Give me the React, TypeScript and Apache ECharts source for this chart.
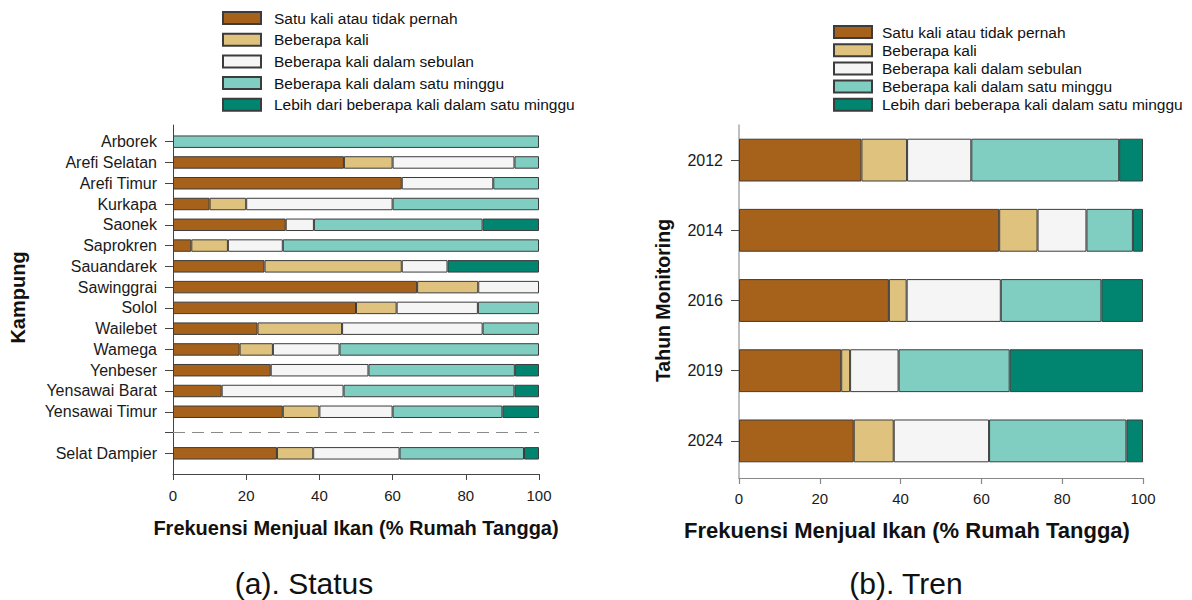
import React, { useEffect, useRef } from "react";
import * as echarts from "echarts";

const seriesNames = [
  "Satu kali atau tidak pernah",
  "Beberapa kali",
  "Beberapa kali dalam sebulan",
  "Beberapa kali dalam satu minggu",
  "Lebih dari beberapa kali dalam satu minggu",
];
const colors = ["#A6611A", "#DFC27D", "#F5F5F5", "#80CDC1", "#018571"];

const kampung = [
  "Arborek", "Arefi Selatan", "Arefi Timur", "Kurkapa", "Saonek", "Saprokren",
  "Sauandarek", "Sawinggrai", "Solol", "Wailebet", "Wamega", "Yenbeser",
  "Yensawai Barat", "Yensawai Timur", " ", "Selat Dampier",
];
const statusSatuKali = [0, 46.7, 62.5, 10, 30.8, 5, 25, 66.7, 50, 23.1, 18.2, 26.7, 13.3, 30, 0, 28.4];
const statusBeberapa = [0, 13.3, 0, 10, 0, 10, 37.5, 16.7, 11.1, 23.1, 9.1, 0, 0, 10, 0, 9.9];
const statusSebulan = [0, 33.3, 25, 40, 7.7, 15, 12.5, 16.6, 22.2, 38.4, 18.2, 26.7, 33.3, 20, 0, 23.6];
const statusMinggu = [100, 6.7, 12.5, 40, 46.1, 70, 0, 0, 16.7, 15.4, 54.5, 40, 46.7, 30, 0, 34.0];
const statusLebih = [0, 0, 0, 0, 15.4, 0, 25, 0, 0, 0, 0, 6.6, 6.7, 10, 0, 4.1];

const tahun = ["2012", "2014", "2016", "2019", "2024"];
const trenSatuKali = [30.3, 64.4, 37.1, 25.3, 28.4];
const trenBeberapa = [11.3, 9.5, 4.4, 2.2, 9.9];
const trenSebulan = [15.9, 12.1, 23.3, 12.0, 23.6];
const trenMinggu = [36.6, 11.5, 24.9, 27.5, 34.0];
const trenLebih = [5.9, 2.5, 10.3, 33.0, 4.1];

const xTicks = [0, 20, 40, 60, 80, 100];
const xTitle = "Frekuensi Menjual Ikan (% Rumah Tangga)";

const FONT = "'Liberation Sans', Arial, sans-serif";

export default function App() {
  const ref = useRef<HTMLDivElement>(null);
  useEffect(() => {
    if (!ref.current) return;
    const chart = echarts.init(ref.current, null, { renderer: "svg" });
    const statusSets = [statusSatuKali, statusBeberapa, statusSebulan, statusMinggu, statusLebih];
    const trenSets = [trenSatuKali, trenBeberapa, trenSebulan, trenMinggu, trenLebih];
    const nz = (arr: number[]) => arr.map((v) => (v === 0 ? null : v));
    const series: any[] = [];
    statusSets.forEach((arr, i) => {
      const s: any = {
        type: "bar",
        name: seriesNames[i],
        stack: "status",
        xAxisIndex: 0,
        yAxisIndex: 0,
        barWidth: "60%",
        data: nz(arr),
        itemStyle: { color: colors[i], borderColor: "#3c3c3c", borderWidth: 1 },
      };
      if (i === 0) {
        s.markLine = {
          silent: true,
          symbol: "none",
          label: { show: false },
          lineStyle: { type: [12, 7], color: "#8a8a8a", width: 1.2 },
          data: [{ yAxis: kampung[14] }],
        };
      }
      series.push(s);
    });
    trenSets.forEach((arr, i) => {
      series.push({
        type: "bar",
        name: seriesNames[i],
        stack: "tren",
        xAxisIndex: 2,
        yAxisIndex: 2,
        barWidth: "61%",
        data: nz(arr),
        itemStyle: { color: colors[i], borderColor: "#3c3c3c", borderWidth: 1 },
      });
    });

    const legendBase = {
      orient: "vertical",
      icon: "rect",
      itemWidth: 38,
      itemHeight: 12,
      selectedMode: false,
      data: seriesNames,
    };

    chart.setOption({
      animation: false,
      textStyle: { fontFamily: FONT },
      legend: [
        {
          ...legendBase,
          left: 217,
          top: 5,
          itemGap: 5.7,
          textStyle: { fontSize: 15.5, lineHeight: 16, color: "#111", fontFamily: FONT, padding: [0, 0, 0, 8] },
        },
        {
          ...legendBase,
          left: 828,
          top: 19,
          itemGap: 2.2,
          textStyle: { fontSize: 15.5, lineHeight: 16, color: "#111", fontFamily: FONT, padding: [0, 0, 0, 5] },
        },
      ],
      grid: [
        { left: 173, right: 653, top: 131.3, bottom: 136.3 },
        { left: 173, right: 653, top: 125, bottom: 126 },
        { left: 739, right: 49, top: 125, bottom: 124 },
        { left: 739, right: 49, top: 125, bottom: 122 },
      ],
      xAxis: [
        { gridIndex: 0, type: "value", min: 0, max: 100, show: false },
        {
          gridIndex: 1,
          type: "value",
          min: xTicks[0],
          max: xTicks[xTicks.length - 1],
          interval: xTicks[1] - xTicks[0],
          axisLine: { show: true, onZero: false, lineStyle: { color: "#444", width: 1 } },
          axisTick: { show: true, length: 6, lineStyle: { color: "#444" } },
          axisLabel: { fontSize: 15, color: "#1a1a1a", margin: 14, fontFamily: FONT },
          splitLine: { show: false },
          name: xTitle,
          nameLocation: "middle",
          nameGap: 44,
          nameTextStyle: { fontSize: 20, fontWeight: "bold", color: "#111", fontFamily: FONT },
        },
        { gridIndex: 2, type: "value", min: 0, max: 100, show: false },
        {
          gridIndex: 3,
          type: "value",
          min: xTicks[0],
          max: xTicks[xTicks.length - 1],
          interval: xTicks[1] - xTicks[0],
          axisLine: { show: true, onZero: false, lineStyle: { color: "#888", width: 1.2 } },
          axisTick: { show: true, length: 6, lineStyle: { color: "#888", width: 1.2 } },
          axisLabel: { fontSize: 15, color: "#1a1a1a", margin: 13, fontFamily: FONT },
          splitLine: { show: false },
          name: xTitle,
          nameLocation: "middle",
          nameGap: 41,
          nameTextStyle: { fontSize: 22, fontWeight: "bold", color: "#111", fontFamily: FONT, padding: [0, 68, 0, 0] },
        },
      ],
      yAxis: [
        {
          gridIndex: 0,
          type: "category",
          inverse: true,
          data: kampung,
          axisLine: { show: false },
          axisTick: { show: true, interval: 0, alignWithLabel: true, length: 8, lineStyle: { color: "#444" } },
          axisLabel: { interval: 0, fontSize: 16, color: "#1a1a1a", margin: 16, fontFamily: FONT },
          name: "Kampung",
          nameLocation: "middle",
          nameGap: 145,
          nameTextStyle: { fontSize: 20, fontWeight: "bold", color: "#111", fontFamily: FONT },
        },
        {
          gridIndex: 1,
          type: "value",
          min: 0,
          max: 1,
          axisLine: { show: true, onZero: false, lineStyle: { color: "#444", width: 1 } },
          axisTick: { show: false },
          axisLabel: { show: false },
          splitLine: { show: false },
        },
        {
          gridIndex: 2,
          type: "category",
          inverse: true,
          data: tahun,
          axisLine: { show: false },
          axisTick: { show: true, interval: 0, alignWithLabel: true, length: 8, lineStyle: { color: "#444" } },
          axisLabel: { interval: 0, fontSize: 16, color: "#1a1a1a", margin: 16, fontFamily: FONT },
          name: "Tahun Monitoring",
          nameLocation: "middle",
          nameGap: 66,
          nameTextStyle: { fontSize: 19.5, fontWeight: "bold", color: "#111", fontFamily: FONT },
        },
        {
          gridIndex: 3,
          type: "value",
          min: 0,
          max: 1,
          axisLine: { show: true, onZero: false, lineStyle: { color: "#aaa", width: 1.5 } },
          axisTick: { show: false },
          axisLabel: { show: false },
          splitLine: { show: false },
        },
      ],
      graphic: [
        {
          type: "text",
          x: 304,
          y: 583,
          style: { text: "(a). Status", fontSize: 30, fontFamily: FONT, fill: "#111", align: "center", verticalAlign: "middle" },
        },
        {
          type: "text",
          x: 906,
          y: 583,
          style: { text: "(b). Tren", fontSize: 30, fontFamily: FONT, fill: "#111", align: "center", verticalAlign: "middle" },
        },
      ],
      series,
    });
    return () => chart.dispose();
  }, []);
  return (
    <div
      ref={ref}
      style={{ position: "fixed", left: 0, top: 0, width: 1192, height: 600, background: "#fff" }}
    />
  );
}
